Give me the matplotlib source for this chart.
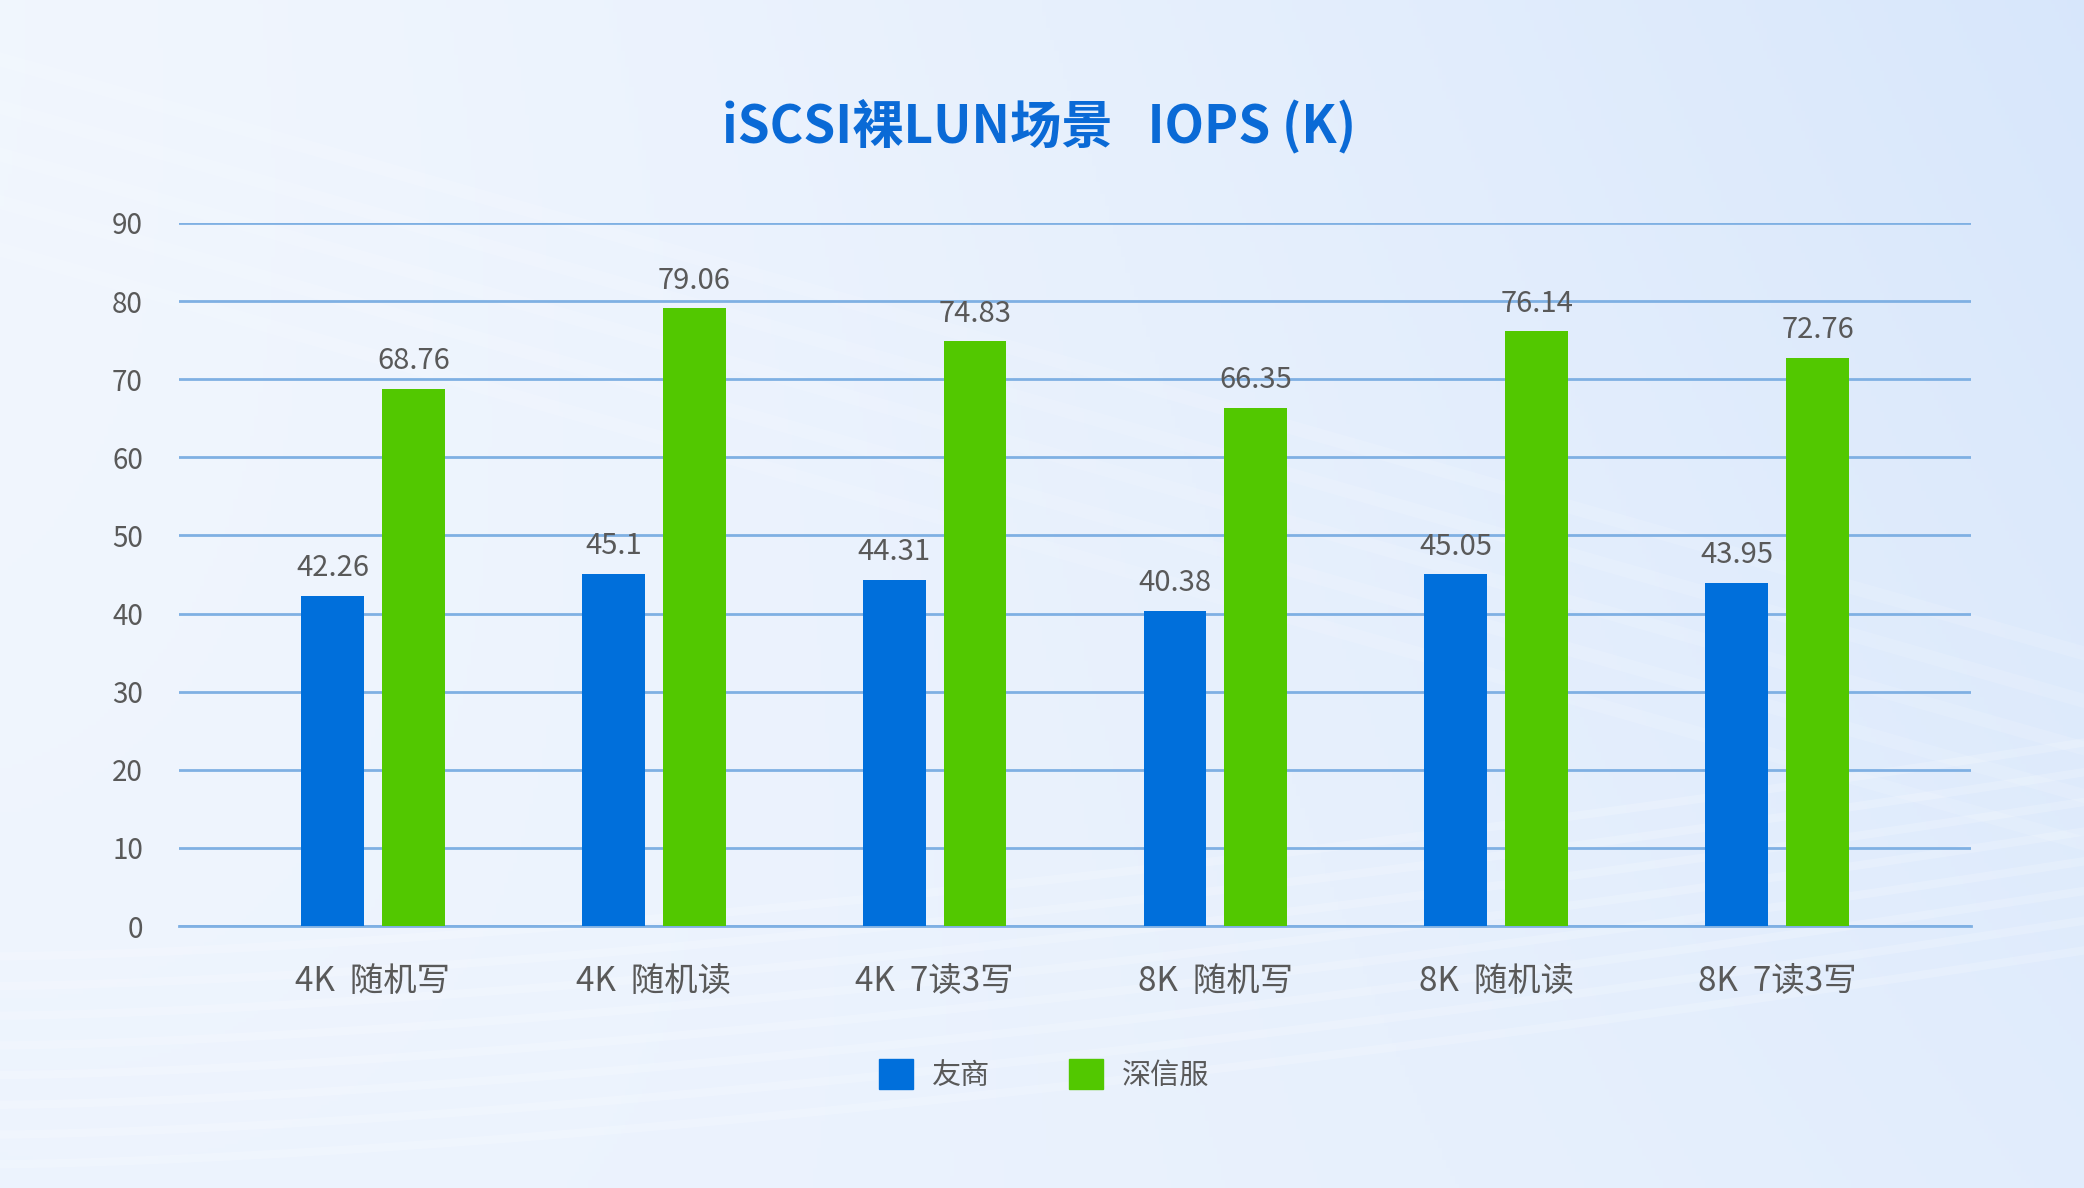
import matplotlib
matplotlib.use("Agg")
import matplotlib.pyplot as plt
import numpy as np
from matplotlib.patches import Patch

plt.rcParams["font.family"] = ["Noto Sans CJK SC", "DejaVu Sans"]

categories = ["4K  随机写", "4K  随机读", "4K  7读3写", "8K  随机写", "8K  随机读", "8K  7读3写"]
youshang = [42.26, 45.1, 44.31, 40.38, 45.05, 43.95]
shenxinfu = [68.76, 79.06, 74.83, 66.35, 76.14, 72.76]
series_names = ["友商", "深信服"]
yticks = [0, 10, 20, 30, 40, 50, 60, 70, 80, 90]

BLUE = "#006FDB"
GREEN = "#52C800"
GRID = "#7FB0E3"
TEXT = "#595959"
TITLE = "#0A6AD6"

fig = plt.figure(figsize=(20.84, 11.88), dpi=100)

# achtergrond: zachte blauwe gradient met lichte strepen
bg = fig.add_axes([0, 0, 1, 1], zorder=-10)
yy, xx = np.mgrid[0:1:300j, 0:1:500j]
c0 = np.array([0.945, 0.965, 0.995])
c1 = np.array([0.835, 0.898, 0.984])
t = np.clip(0.55 * xx ** 1.6 + 0.35 * (1 - yy) * xx + 0.25 * yy ** 2 * (1 - xx) * 0.6, 0, 1)
img = c0[None, None, :] * (1 - t[..., None]) + c1[None, None, :] * t[..., None]
bg.imshow(img, extent=[0, 1, 0, 1], aspect="auto", origin="upper")
xs = np.linspace(0, 1, 200)
for k in range(8):
    ys = 0.02 + 0.025 * k + 0.18 * xs ** 1.5
    bg.plot(xs, ys, color="white", alpha=0.18, lw=6)
for k in range(5):
    ys = 0.95 - 0.04 * k - 0.5 * xs
    bg.plot(xs, ys, color="white", alpha=0.12, lw=10)
bg.set_xlim(0, 1)
bg.set_ylim(0, 1)
bg.axis("off")

ax = fig.add_axes([0.0859, 0.2205, 0.8599, 0.5918])
ax.patch.set_alpha(0)

x = np.arange(len(categories))
w = 0.224
off = 0.144
b1 = ax.bar(x - off, youshang, w, color=BLUE, zorder=3)
b2 = ax.bar(x + off, shenxinfu, w, color=GREEN, zorder=3)

for bars, vals in [(b1, youshang), (b2, shenxinfu)]:
    for bar, v in zip(bars, vals):
        ax.annotate(f"{v:g}", (bar.get_x() + bar.get_width() / 2, v),
                    xytext=(0, 14), textcoords="offset points",
                    ha="center", va="baseline", fontsize=21, color=TEXT)

ax.set_xlim(-0.69, len(categories) - 1 + 0.69)
ax.set_ylim(0, 90)
ax.set_yticks(yticks)
ax.yaxis.grid(True, color=GRID, lw=2, zorder=0)
ax.set_axisbelow(True)
for s in ["top", "right", "left"]:
    ax.spines[s].set_visible(False)
ax.spines["bottom"].set_color(GRID)
ax.spines["bottom"].set_linewidth(2)
ax.set_xticks(x)
ax.set_xticklabels(categories)
ax.tick_params(axis="y", length=0, pad=26, labelsize=20, labelcolor=TEXT)
ax.tick_params(axis="x", length=0, pad=27, labelsize=24, labelcolor=TEXT)

fig.text(0.4985, 0.894, "iSCSI裸LUN场景   IOPS (K)", ha="center", va="center",
         fontsize=37, fontweight="bold", color=TITLE)

handles = [Patch(color=BLUE), Patch(color=GREEN)]
fig.legend(handles, series_names, loc="center", bbox_to_anchor=(0.501, 1 - 1075 / 1188),
           ncol=2, frameon=False, fontsize=21, labelcolor=TEXT,
           handlelength=1.17, handleheight=1.17, handletextpad=0.65, columnspacing=2.7)

fig.savefig("out.png", dpi=100)
